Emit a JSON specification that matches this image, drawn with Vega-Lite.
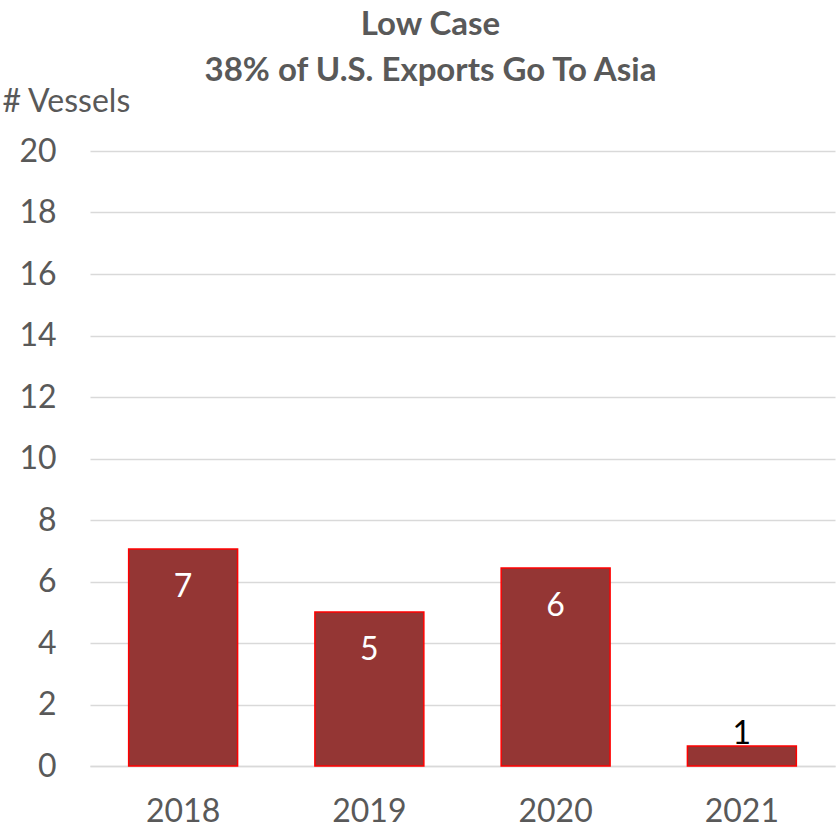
{
  "$schema": "https://vega.github.io/schema/vega-lite/v6.json",
  "autosize": {"type": "none"},
  "padding": {"left": 90, "top": 151, "right": 5, "bottom": 71},
  "width": 745,
  "height": 615,
  "background": "white",
  "config": {
    "font": "Lato",
    "view": {"stroke": null}
  },
  "title": {
    "text": ["Low Case", "38% of U.S. Exports Go To Asia"],
    "font": "Lato",
    "fontSize": 33,
    "fontWeight": "bold",
    "color": "#595959",
    "anchor": "middle",
    "dx": -32,
    "lineHeight": 46,
    "offset": -3
  },
  "data": {
    "values": [
      {"year": "2018", "vessels": 7.06},
      {"year": "2019", "vessels": 5.01},
      {"year": "2020", "vessels": 6.44},
      {"year": "2021", "vessels": 0.65}
    ]
  },
  "encoding": {
    "x": {
      "field": "year",
      "type": "nominal",
      "scale": {"paddingInner": 0.415, "paddingOuter": 0.2075},
      "axis": {
        "title": null,
        "labelAngle": 0,
        "labelFontSize": 32,
        "labelColor": "#595959",
        "labelPadding": 30,
        "ticks": false,
        "domainColor": "#d9d9d9",
        "domainWidth": 1.5
      }
    },
    "y": {
      "field": "vessels",
      "type": "quantitative",
      "scale": {"domain": [0, 20]},
      "axis": {
        "title": "# Vessels",
        "titleAngle": 0,
        "titleAlign": "left",
        "titleBaseline": "alphabetic",
        "titleX": -88,
        "titleY": -40,
        "titleFontSize": 32,
        "titleFontWeight": "normal",
        "titleColor": "#595959",
        "values": [0, 2, 4, 6, 8, 10, 12, 14, 16, 18, 20],
        "labelFontSize": 32,
        "labelColor": "#595959",
        "labelPadding": 34,
        "ticks": false,
        "domain": false,
        "gridColor": "#d9d9d9",
        "gridWidth": 1.5
      }
    }
  },
  "layer": [
    {
      "mark": {"type": "bar", "color": "#943634", "stroke": "#ff0000", "strokeWidth": 1.5}
    },
    {
      "transform": [{"filter": "datum.vessels >= 1"}],
      "mark": {"type": "text", "baseline": "middle", "dy": 38, "fontSize": 32, "color": "white"},
      "encoding": {"text": {"field": "vessels", "type": "quantitative", "format": ".0f"}}
    },
    {
      "transform": [{"filter": "datum.vessels < 1"}],
      "mark": {"type": "text", "baseline": "middle", "dy": -12, "fontSize": 32, "color": "black"},
      "encoding": {"text": {"field": "vessels", "type": "quantitative", "format": ".0f"}}
    }
  ]
}
